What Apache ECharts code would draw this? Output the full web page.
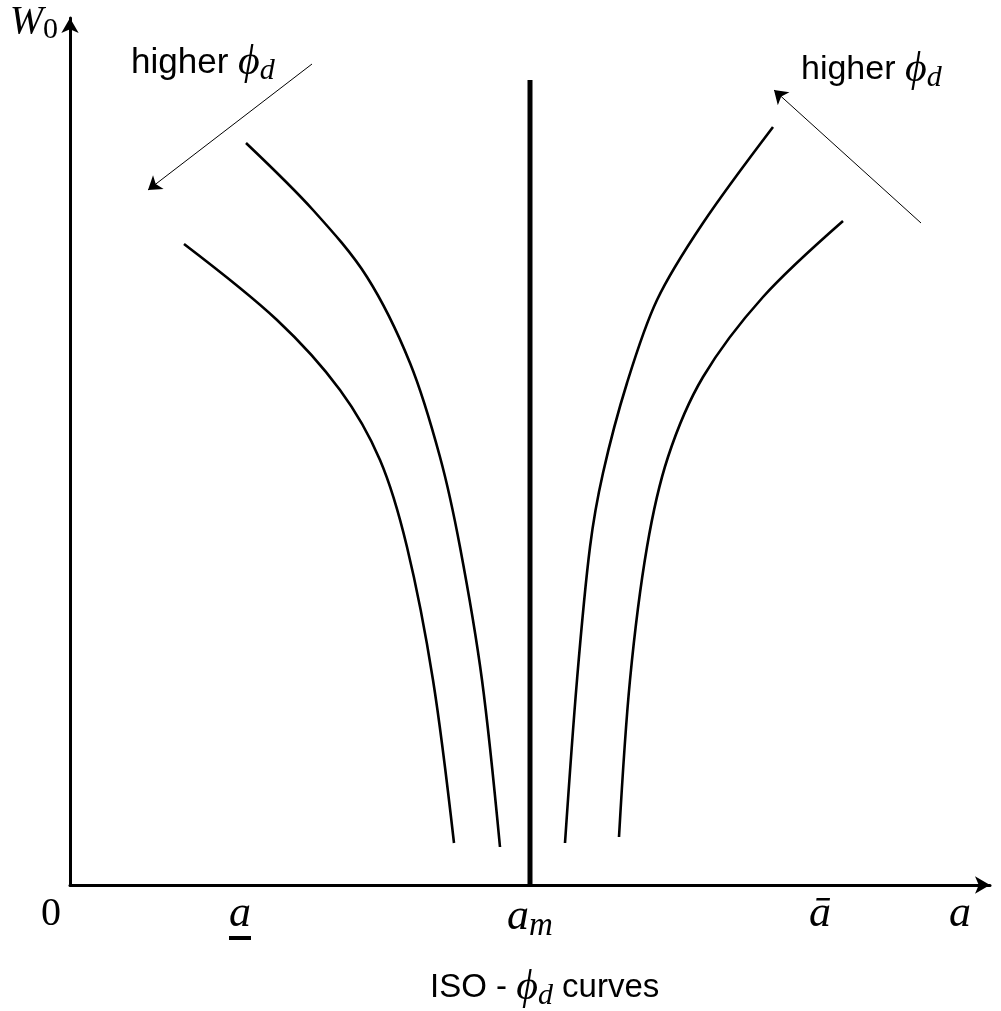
<!DOCTYPE html>
<html><head><meta charset="utf-8">
<script src="https://cdn.jsdelivr.net/npm/echarts@6/dist/echarts.min.js"></script>
<style>html,body{margin:0;padding:0;background:#fff}#c{width:1001px;height:1011px}</style>
</head><body><div id="c"></div>
<script>
// ISO-phi_d curves (conceptual units: x = a, y = W0)
const curveLeftOuter  = [[114,641],[207,565],[270,495],[310,425],[337,338],[363,205],[384,42]];
const curveLeftInner  = [[176,742],[243,675],[297,608],[340,522],[370,428],[390,338],[412,205],[430,38]];
const curveRightInner = [[703,758],[633,662],[587,585],[557,502],[533,412],[520,338],[507,205],[495,42]];
const curveRightOuter = [[773,664],[693,588],[633,508],[598,428],[577,338],[560,205],[549,48]];
const aMid = 460;            // a_m position
const aMidTop = 805;         // height of a_m line
const arrowLeft  = [[242,821],[78,695]];
const arrowRight = [[851,662],[704,795]];
const xTickValues = [0, 170, 460, 750, 890];
const xTickLabels = ['{num|0}', '{it|a}\n{ul|}', '{it|a}{sub|m}', '{it|ā}', '{it|a}'];
const yTickValues = [863];
const yTickLabels = ['{it|W}{subn|0}'];

const MATH = "'Liberation Serif','DejaVu Serif',serif";
const SANS = "'Liberation Sans', Arial, sans-serif";

const chart = echarts.init(document.getElementById('c'));
const lineStyleCurve = {color:'#000', width:2.6};
function curve(data){
  return {type:'line', data, smooth:0.33, symbol:'none', lineStyle:lineStyleCurve, silent:true, z:3};
}
function phiRich(sansSize){
  return {
    n:{fontFamily:SANS, fontSize:sansSize, fontWeight:'normal', fill:'#000', color:'#000'},
    m:{fontFamily:MATH, fontStyle:'italic', fontWeight:'normal', fontSize:42, fill:'#000', color:'#000'},
    s:{fontFamily:MATH, fontStyle:'italic', fontWeight:'normal', fontSize:30, fill:'#000', color:'#000', padding:[16,0,0,0]}
  };
}
chart.setOption({
  animation:false,
  backgroundColor:'#fff',
  grid:{left:70, top:18, width:920, height:867, containLabel:false},
  xAxis:{type:'value', min:0, max:920,
    axisLine:{lineStyle:{color:'#000', width:3}, symbol:['none','arrow'], symbolSize:[13,15]},
    axisTick:{show:false}, splitLine:{show:false},
    axisLabel:{customValues:xTickValues, margin:7, color:'#000',
      formatter:(v)=>{const i=xTickValues.indexOf(v); return i<0?'':xTickLabels[i];},
      rich:{
        num:{fontFamily:MATH, fontSize:40, color:'#000', padding:[0,38,0,0], lineHeight:44},
        it:{fontFamily:MATH, fontStyle:'italic', fontSize:44, color:'#000', lineHeight:44},
        sub:{fontFamily:MATH, fontStyle:'italic', fontSize:33, color:'#000', padding:[18,0,0,0]},
        ul:{width:22, height:4, backgroundColor:'#000', lineHeight:4}
      }}
  },
  yAxis:{type:'value', min:0, max:867,
    axisLine:{lineStyle:{color:'#000', width:3}, symbol:['none','arrow'], symbolSize:[13,15]},
    axisTick:{show:false}, splitLine:{show:false},
    axisLabel:{customValues:yTickValues, margin:12, color:'#000',
      formatter:(v)=>{const i=yTickValues.indexOf(v); return i<0?'':yTickLabels[i];},
      rich:{
        it:{fontFamily:MATH, fontStyle:'italic', fontSize:40, color:'#000'},
        subn:{fontFamily:MATH, fontSize:30, color:'#000', padding:[16,0,0,0]}
      }}
  },
  title:{
    text:'{n|ISO - }{m|ϕ}{s|d}{n| curves}',
    left:425, top:960,
    textStyle:{fontWeight:'normal', rich:phiRich(33)}
  },
  graphic:[
    {type:'text', left:131, top:42, style:{text:'{n|higher }{m|ϕ}{s|d}', rich:phiRich(35)}},
    {type:'text', left:801, top:49, style:{text:'{n|higher }{m|ϕ}{s|d}', rich:phiRich(34)}}
  ],
  series:[
    curve(curveLeftOuter), curve(curveLeftInner), curve(curveRightInner), curve(curveRightOuter),
    {type:'line', data:[[aMid,0],[aMid,aMidTop]], symbol:'none', lineStyle:{color:'#000', width:5}, silent:true, z:4},
    {type:'lines', coordinateSystem:'cartesian2d', silent:true, z:5,
      symbol:['none','arrow'], symbolSize:13,
      lineStyle:{color:'#000', width:1, opacity:1},
      data:[{coords:arrowLeft},{coords:arrowRight}]}
  ]
});
</script></body></html>
